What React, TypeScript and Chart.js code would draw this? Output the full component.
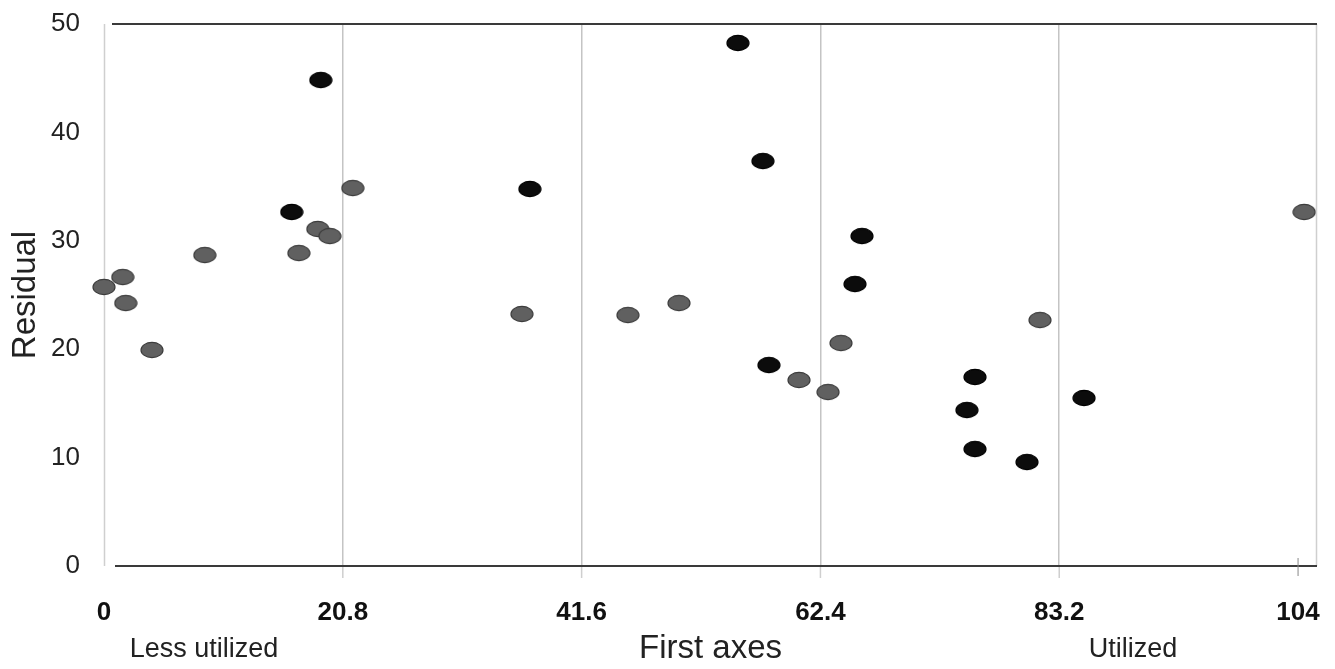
import React, { useEffect, useRef } from "react";
import { Chart, registerables } from "chart.js";

Chart.register(...registerables);

// ---- data ----
const xTicks = [0, 20.8, 41.6, 62.4, 83.2, 104];
const yTicks = [0, 10, 20, 30, 40, 50];
const xGridValues = [20.8, 41.6, 62.4, 83.2];

const darkX = [18.88, 16.35, 37.09, 55.21, 57.39, 66.02, 65.41, 57.91, 75.86, 75.16, 75.86, 80.39, 85.36];
const darkY = [44.83, 32.66, 34.78, 48.25, 37.36, 30.44, 26.01, 18.54, 17.44, 14.39, 10.79, 9.59, 15.5];

const grayX = [0.0, 1.63, 1.89, 4.18, 8.78, 16.97, 18.62, 19.67, 21.67, 36.4, 45.63, 50.08, 60.53, 63.06, 64.19, 81.52, 104.53];
const grayY = [25.74, 26.66, 24.26, 19.93, 28.69, 28.87, 31.09, 30.44, 34.87, 23.25, 23.15, 24.26, 17.16, 16.05, 20.57, 22.69, 32.66];

const xTitle = "First axes";
const yTitle = "Residual";
const leftNote = "Less utilized";
const rightNote = "Utilized";

const FONT = "'Liberation Sans', Arial, sans-serif";

function makeEllipse(fill: string, stroke: string): HTMLCanvasElement {
  const c = document.createElement("canvas");
  c.width = 24;
  c.height = 18;
  const g = c.getContext("2d")!;
  g.beginPath();
  g.ellipse(12, 9, 11, 7.6, 0, 0, Math.PI * 2);
  g.fillStyle = fill;
  g.fill();
  g.lineWidth = 1.2;
  g.strokeStyle = stroke;
  g.stroke();
  return c;
}

const framePlugin = {
  id: "frame",
  beforeDatasetsDraw(chart: any) {
    const { ctx, chartArea } = chart;
    const { left, right, top, bottom } = chartArea;
    const xs = chart.scales.x;
    ctx.save();
    ctx.strokeStyle = "#cfcfcf";
    ctx.lineWidth = 1.5;
    ctx.beginPath();
    ctx.moveTo(left + 0.5, top);
    ctx.lineTo(left + 0.5, bottom);
    ctx.moveTo(right - 0.5, top);
    ctx.lineTo(right - 0.5, bottom);
    xGridValues.forEach((v) => {
      const px = xs.getPixelForValue(v);
      ctx.moveTo(px, bottom);
      ctx.lineTo(px, bottom + 12);
    });
    ctx.stroke();
    ctx.strokeStyle = "#3a3a3a";
    ctx.lineWidth = 1.8;
    ctx.beginPath();
    ctx.moveTo(left + 8, top);
    ctx.lineTo(right, top);
    ctx.moveTo(left + 11, bottom);
    ctx.lineTo(right, bottom);
    ctx.stroke();
    const px = xs.getPixelForValue(104);
    ctx.strokeStyle = "#888";
    ctx.lineWidth = 1;
    ctx.beginPath();
    ctx.moveTo(px, bottom - 8);
    ctx.lineTo(px, bottom + 10);
    ctx.stroke();
    ctx.restore();
  },
  afterDraw(chart: any) {
    const { ctx } = chart;
    ctx.save();
    ctx.fillStyle = "#222";
    ctx.font = `27px ${FONT}`;
    ctx.textAlign = "center";
    ctx.textBaseline = "alphabetic";
    ctx.fillText(leftNote, 204, 657);
    ctx.fillText(rightNote, 1133, 657);
    ctx.restore();
  },
};

export default function App() {
  const ref = useRef<HTMLCanvasElement | null>(null);

  useEffect(() => {
    if (!ref.current) return;
    const darkStyle = makeEllipse("#0c0c0c", "#000000");
    const grayStyle = makeEllipse("#606060", "#3c3c3c");
    const chart = new Chart(ref.current, {
      type: "scatter",
      data: {
        datasets: [
          {
            label: "gray",
            data: grayX.map((x, i) => ({ x, y: grayY[i] })),
            pointStyle: grayStyle as any,
            pointRadius: 11,
            backgroundColor: "#606060",
            clip: false as any,
          },
          {
            label: "dark",
            data: darkX.map((x, i) => ({ x, y: darkY[i] })),
            pointStyle: darkStyle as any,
            pointRadius: 11,
            backgroundColor: "#0c0c0c",
            clip: false as any,
          },
        ],
      },
      options: {
        animation: false,
        responsive: false,
        maintainAspectRatio: false,
        layout: { autoPadding: false, padding: { top: 24, right: 18, left: 0, bottom: 0 } } as any,
        plugins: { legend: { display: false }, tooltip: { enabled: false } },
        scales: {
          x: {
            type: "linear",
            min: 0,
            max: 105.65,
            afterBuildTicks: (axis: any) => {
              axis.ticks = xTicks.map((v) => ({ value: v }));
            },
            afterFit: (axis: any) => {
              axis.height = 103;
            },
            ticks: {
              autoSkip: false,
              maxRotation: 0,
              padding: 0,
              color: "#111",
              font: { family: FONT, size: 26, weight: "bold" },
              callback: (v: any) => String(v),
            },
            grid: {
              drawTicks: true,
              tickLength: 31,
              tickColor: "rgba(0,0,0,0)",
              lineWidth: 1.5,
              color: (ctx: any) =>
                ctx.tick && xGridValues.includes(ctx.tick.value) ? "#c4c4c4" : "rgba(0,0,0,0)",
            },
            border: { display: false },
            title: {
              display: true,
              text: xTitle,
              color: "#222",
              font: { family: FONT, size: 33 },
              padding: { top: 0, bottom: 0 },
            },
          },
          y: {
            type: "linear",
            min: 0,
            max: 50,
            afterBuildTicks: (axis: any) => {
              axis.ticks = yTicks.map((v) => ({ value: v }));
            },
            afterFit: (axis: any) => {
              axis.width = 104;
            },
            ticks: {
              padding: 0,
              color: "#222",
              font: { family: FONT, size: 26 },
            },
            grid: {
              display: true,
              drawOnChartArea: false,
              drawTicks: true,
              tickLength: 24,
              color: "rgba(0,0,0,0)",
              tickColor: "rgba(0,0,0,0)",
            },
            border: { display: false },
            title: {
              display: true,
              text: yTitle,
              color: "#222",
              font: { family: FONT, size: 33 },
              padding: { top: 6, bottom: 0 },
            },
          },
        },
      },
      plugins: [framePlugin],
    });
    return () => chart.destroy();
  }, []);

  return (
    <div style={{ position: "fixed", left: 0, top: 0, width: 1335, height: 669, background: "#fff" }}>
      <canvas ref={ref} width={1335} height={669} style={{ width: 1335, height: 669 }} />
    </div>
  );
}
